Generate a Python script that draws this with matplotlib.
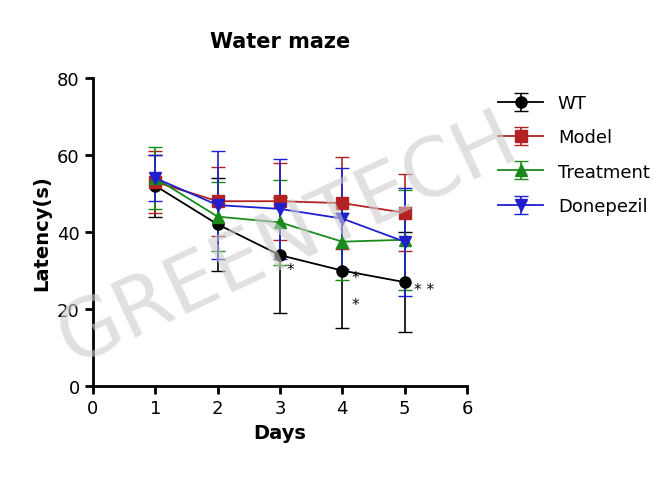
import matplotlib.pyplot as plt

days = [1, 2, 3, 4, 5]
wt = [52, 42, 34, 30, 27]
wt_err = [8, 12, 15, 15, 13]
model = [53, 48, 48, 47.5, 45]
model_err = [8, 9, 10, 12, 10]
treatment = [54, 44, 42.5, 37.5, 38]
treatment_err = [8, 9, 11, 10, 13]
donepezil = [54, 47, 46, 43.5, 37.5]
donepezil_err = [6, 14, 13, 13, 14]

fig = plt.figure(figsize=(6.69, 4.81), dpi=100)
ax = fig.add_axes([0.139, 0.195, 0.559, 0.641])

series = [
    ("WT", wt, wt_err, "black", "o"),
    ("Model", model, model_err, "#b22222", "s"),
    ("Treatment", treatment, treatment_err, "#1a8a1a", "^"),
    ("Donepezil", donepezil, donepezil_err, "#1f1fd0", "v"),
]
for name, y, e, c, m in series:
    ax.errorbar(days, y, yerr=e, color=c, marker=m, markersize=8, lw=1.3,
                capsize=5, elinewidth=1.2, label=name)

# significance marks
ax.text(3.1, wt[2] - 5, "*", fontsize=11)
ax.text(4.15, wt[3] - 3, "*", fontsize=11)
ax.text(4.15, wt[3] - 10, "*", fontsize=11)
ax.text(5.15, wt[4] - 3, "* *", fontsize=11)

ax.set_xlim(0, 6)
ax.set_ylim(0, 80)
ax.set_xticks(range(7))
ax.set_yticks([0, 20, 40, 60, 80])
ax.spines["top"].set_visible(False)
ax.spines["right"].set_visible(False)
ax.spines["left"].set_linewidth(2)
ax.spines["bottom"].set_linewidth(2)
ax.tick_params(width=2, length=6, labelsize=13)
ax.set_xlabel("Days", fontsize=14, fontweight="bold")
ax.set_ylabel("Latency(s)", fontsize=14, fontweight="bold")
ax.set_title("Water maze", fontsize=15, fontweight="bold", pad=22)

ax.legend(loc="upper left", bbox_to_anchor=(1.04, 1.0), frameon=False,
          fontsize=13, handlelength=2.5, labelspacing=0.9)

fig.text(0.43, 0.50, "GREENTECH", fontsize=58, color="#cccccc", alpha=0.6,
         rotation=25, ha="center", va="center")

fig.savefig("out.png", dpi=100)
